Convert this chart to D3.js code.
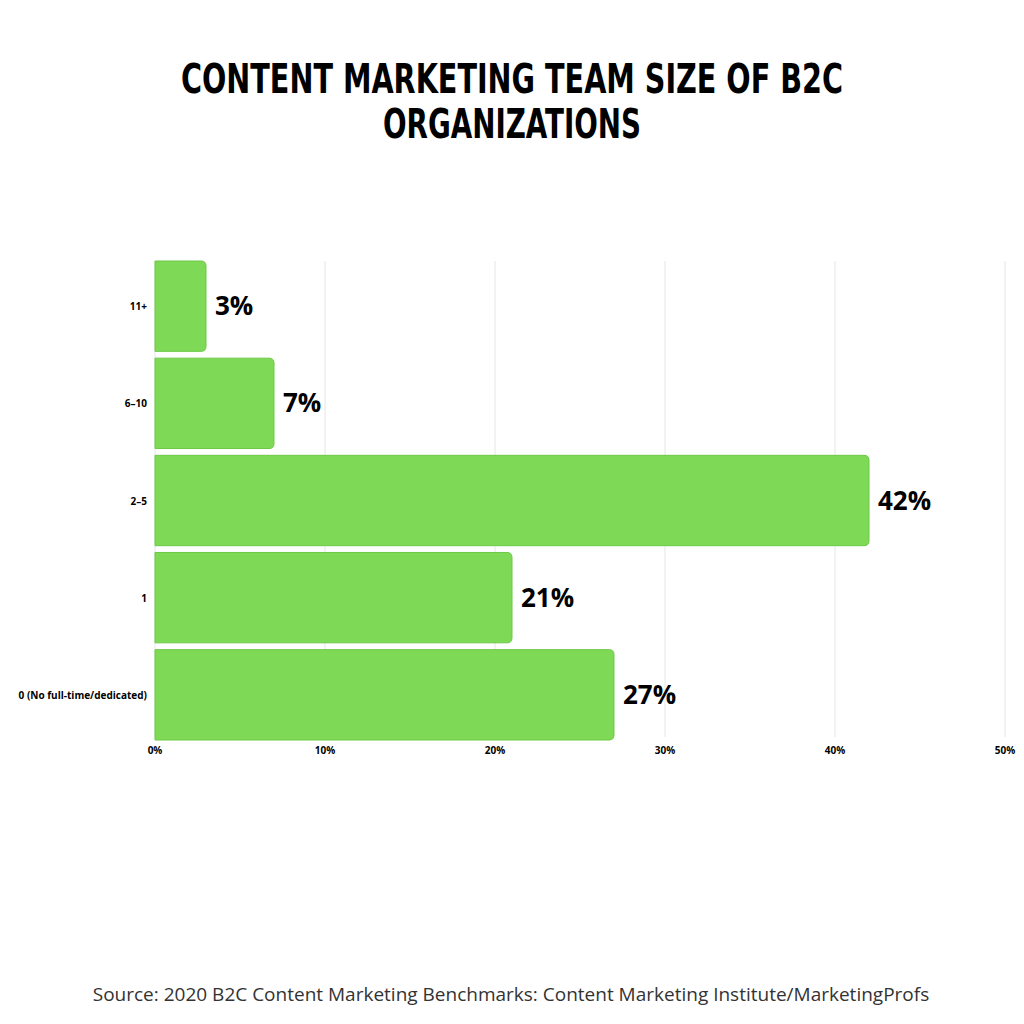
<!DOCTYPE html>
<html><head><meta charset="utf-8">
<script src="https://cdn.jsdelivr.net/npm/d3@7"></script>
<style>body{margin:0;background:#fff}</style>
</head><body>
<svg id="c" width="1024" height="1024"></svg>
<script>
const categories = ["11+","6–10","2–5","1","0 (No full-time/dedicated)"];
const values = [3,7,42,21,27];
const ticks = [0,10,20,30,40,50];
const titleLines = ["CONTENT MARKETING TEAM SIZE OF B2C","ORGANIZATIONS"];
const source = "Source: 2020 B2C Content Marketing Benchmarks: Content Marketing Institute/MarketingProfs";

const svg = d3.select("#c");
svg.append("rect").attr("width",1024).attr("height",1024).attr("fill","#fff");
const x = d3.scaleLinear().domain([0,50]).range([155,1005]);
const y = d3.scaleBand().domain(categories).range([261,740]).paddingInner(0.07).paddingOuter(0);

svg.selectAll(".t").data(titleLines).enter().append("text")
 .attr("x",512).attr("y",(d,i)=>93+i*45).attr("text-anchor","middle")
 .attr("font-family","'DejaVu Sans Condensed','DejaVu Sans',sans-serif").attr("font-weight","bold")
 .attr("font-size",40).attr("textLength",d=>d.length>20?662:258).attr("lengthAdjust","spacingAndGlyphs")
 .attr("fill","#000").text(d=>d);

svg.selectAll(".g").data(ticks).enter().append("line")
 .attr("x1",d=>x(d)).attr("x2",d=>x(d)).attr("y1",261).attr("y2",737)
 .attr("stroke","#e6e6e6").attr("stroke-width",1);

svg.selectAll(".tl").data(ticks).enter().append("text")
 .attr("x",d=>x(d)).attr("y",754).attr("text-anchor","middle")
 .attr("font-family","'Open Sans',sans-serif").attr("font-weight","bold").attr("font-size",10)
 .text(d=>d+"%");

svg.selectAll(".b").data(values).enter().append("path")
 .attr("d",(d,i)=>{const x0=x(0),x1=x(d),y0=y(categories[i]),h=y.bandwidth(),r=5;
   return `M${x0},${y0}H${x1-r}Q${x1},${y0} ${x1},${y0+r}V${y0+h-r}Q${x1},${y0+h} ${x1-r},${y0+h}H${x0}Z`;})
 .attr("fill","#7ed957").attr("stroke","#6cc945").attr("stroke-width",1);

svg.selectAll(".v").data(values).enter().append("text")
 .attr("x",d=>x(d)+9).attr("y",(d,i)=>y(categories[i])+y.bandwidth()/2+9)
 .attr("font-family","'Open Sans',sans-serif").attr("font-weight","bold").attr("font-size",26)
 .text(d=>d+"%");

svg.selectAll(".c").data(categories).enter().append("text")
 .attr("x",147).attr("y",d=>y(d)+y.bandwidth()/2+4).attr("text-anchor","end")
 .attr("font-family","'Open Sans',sans-serif").attr("font-weight","bold").attr("font-size",10)
 .text(d=>d);

svg.append("text").attr("x",511).attr("y",1001).attr("text-anchor","middle")
 .attr("font-family","'Open Sans',sans-serif").attr("font-size",19).attr("fill","#333").text(source);
</script>
</body></html>
